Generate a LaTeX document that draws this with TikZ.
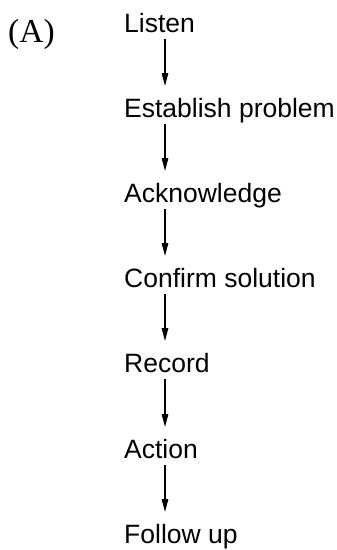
\documentclass[tikz,border=0pt]{standalone}
\usepackage{fontspec}
\setmainfont{Liberation Sans}
\newfontfamily\serifA{Liberation Serif}
\usetikzlibrary{arrows.meta,calc}
\begin{document}
\begin{tikzpicture}[x=1pt,y=1pt,
  lbl/.style={anchor=base west,inner sep=0pt,font=\fontsize{26.5}{30}\selectfont},
  arr/.style={line width=1.3pt,-{Triangle[length=13pt,width=6.5pt]}}]
\useasboundingbox (0,0) rectangle (337,-550);
\node[anchor=base west,inner sep=0pt,font=\serifA\fontsize{33.5}{38}\selectfont] (tag) at (8,-42) {(A)};
\node[lbl] (n1) at (124,-32) {Listen};
\node[lbl] (n2) at (124,-117) {Establish problem};
\node[lbl] (n3) at (124,-202) {Acknowledge};
\node[lbl] (n4) at (124,-287) {Confirm solution};
\node[lbl] (n5) at (124,-372) {Record};
\node[lbl] (n6) at (124,-458) {Action};
\node[lbl] (n7) at (124,-543) {Follow up};
\foreach \a/\b in {n1/n2,n2/n3,n3/n4,n4/n5,n5/n6,n6/n7}{
  \draw[arr] ($(\a.base west)+(41,-7)$) -- ($(\b.base west)+(41,31)$);
}
\end{tikzpicture}
\end{document}
